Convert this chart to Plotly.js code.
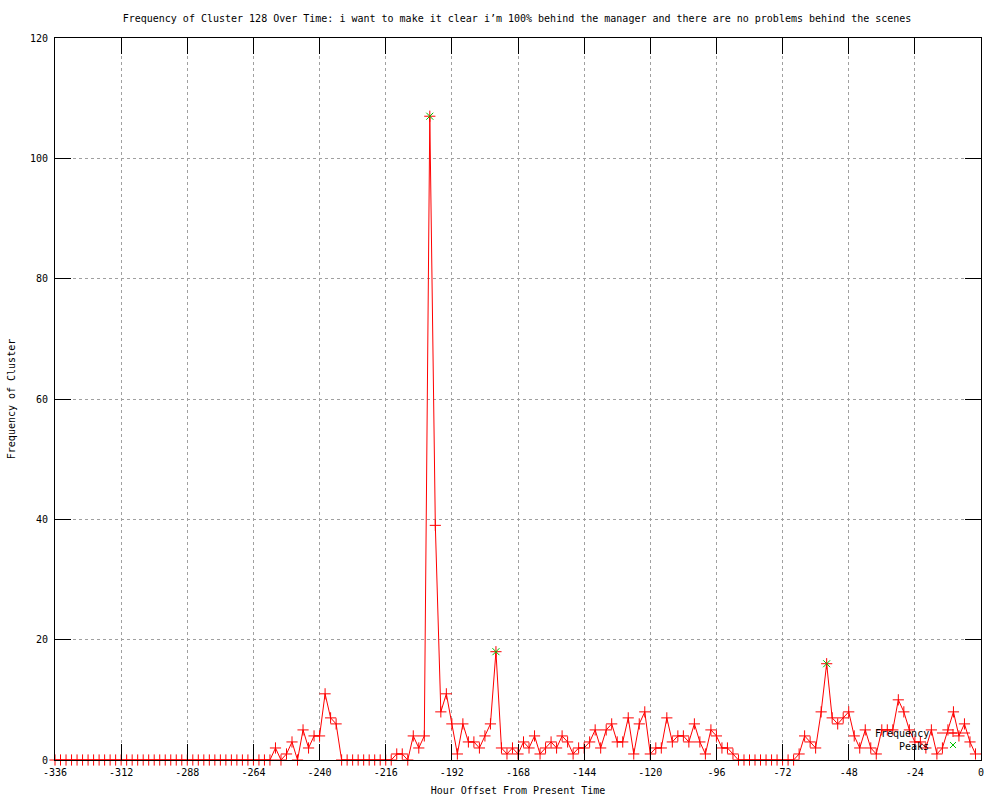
<!DOCTYPE html>
<html>
<head>
<meta charset="utf-8">
<script src="https://cdn.plot.ly/plotly-3.0.1.min.js"></script>
<style>html,body{margin:0;padding:0;background:#fff;}#chart{width:1000px;height:800px;}</style>
</head>
<body>
<div id="chart"></div>
<script>
// Hour offsets (x) of each sample
const hours = [
  -336,-334,-332,-330,-328,-326,-324,-322,-320,-318,
  -316,-314,-312,-310,-308,-306,-304,-302,-300,-298,
  -296,-294,-292,-290,-288,-286,-284,-282,-280,-278,
  -276,-274,-272,-270,-268,-266,-264,-262,-260,-258,
  -256,-254,-252,-250,-248,-246,-244,-242,-240,-238,
  -236,-234,-232,-230,-228,-226,-224,-222,-220,-218,
  -216,-214,-212,-210,-208,-206,-204,-202,-200,-198,
  -196,-194,-192,-190,-188,-186,-184,-182,-180,-178,
  -176,-174,-172,-170,-168,-166,-164,-162,-160,-158,
  -156,-154,-152,-150,-148,-146,-144,-142,-140,-138,
  -136,-134,-132,-130,-128,-126,-124,-122,-120,-118,
  -116,-114,-112,-110,-108,-106,-104,-102,-100,-98,
  -96,-94,-92,-90,-88,-86,-84,-82,-80,-78,
  -76,-74,-72,-70,-68,-66,-64,-62,-60,-58,
  -56,-54,-52,-50,-48,-46,-44,-42,-40,-38,
  -36,-34,-32,-30,-28,-26,-24,-22,-20,-18,
  -16,-14,-12,-10,-8,-6,-4,-2
];
// Frequency of cluster at each hour offset
const frequency = [
  0,0,0,0,0,0,0,0,0,0,
  0,0,0,0,0,0,0,0,0,0,
  0,0,0,0,0,0,0,0,0,0,
  0,0,0,0,0,0,0,0,0,0,
  2,0,1,3,0,5,2,4,4,11,
  7,6,0,0,0,0,0,0,0,0,
  0,0,1,1,0,4,2,4,107,39,
  8,11,6,1,6,3,3,2,4,6,
  18,2,1,2,1,3,2,4,1,2,
  3,2,4,3,1,2,2,3,5,2,
  5,6,3,3,7,1,6,8,1,2,
  2,7,3,4,4,3,6,3,1,5,
  4,2,2,1,0,0,0,0,0,0,
  0,0,0,0,0,1,4,3,2,8,
  16,7,6,7,8,4,2,5,2,1,
  5,5,5,10,8,5,3,3,2,5,
  1,2,5,8,4,6,3,1
];
// Detected peaks
const peakHours = [-200, -176, -56];
const peakValues = [107, 18, 16];

// Axis ticks
const xTickVals = [-336,-312,-288,-264,-240,-216,-192,-168,-144,-120,-96,-72,-48,-24,0];
const xTickLabels = ["-336","-312","-288","-264","-240","-216","-192","-168","-144","-120","-96","-72","-48","-24","0"];
const yTickVals = [0,20,40,60,80,100,120];
const yTickLabels = ["0","20","40","60","80","100","120"];

const FONT = "DejaVu Sans Mono, Liberation Mono, monospace";
const FS = 10;

const traces = [
  {
    x: hours, y: frequency, name: "Frequency",
    type: "scatter", mode: "lines+markers",
    line: {color: "#ff0000", width: 1},
    marker: {symbol: "cross-thin-open", size: 8, color: "#ff0000", line: {color: "#ff0000", width: 1}},
    cliponaxis: false, showlegend: false
  },
  {
    x: peakHours, y: peakValues, name: "Peaks",
    type: "scatter", mode: "markers",
    marker: {symbol: "x-thin-open", size: 7, color: "#00c000", line: {color: "#00c000", width: 1}},
    cliponaxis: false, showlegend: false
  }
];

// Manual gnuplot-style legend (text left, sample right), in pixel coords -> paper
const L = 55, R = 981, T = 38, B = 760;
const px = v => (v - L) / (R - L);
const py = v => (B - v) / (B - T);

const shapes = [
  {type: "line", xref: "paper", yref: "paper", x0: px(937), x1: px(970), y0: py(733), y1: py(733), line: {color: "#ff0000", width: 1}},
  {type: "line", xref: "paper", yref: "paper", x0: px(949), x1: px(957), y0: py(733), y1: py(733), line: {color: "#ff0000", width: 1}},
  {type: "line", xref: "paper", yref: "paper", x0: px(953), x1: px(953), y0: py(729), y1: py(737), line: {color: "#ff0000", width: 1}},
  {type: "line", xref: "paper", yref: "paper", x0: px(950), x1: px(956), y0: py(742), y1: py(748), line: {color: "#00c000", width: 1}},
  {type: "line", xref: "paper", yref: "paper", x0: px(950), x1: px(956), y0: py(748), y1: py(742), line: {color: "#00c000", width: 1}}
];

const annotations = [
  {xref: "paper", yref: "paper", x: px(931), y: py(733), text: "Frequency", showarrow: false, xanchor: "right", yanchor: "middle", font: {family: FONT, size: FS, color: "#000"}},
  {xref: "paper", yref: "paper", x: px(931), y: py(746), text: "Peaks", showarrow: false, xanchor: "right", yanchor: "middle", font: {family: FONT, size: FS, color: "#000"}}
];

const axisCommon = {
  showline: true, linecolor: "#000", linewidth: 1, mirror: "ticks",
  ticks: "inside", ticklen: 16, tickcolor: "#000", tickwidth: 1,
  showgrid: true, gridcolor: "#a0a0a0", griddash: "dot", gridwidth: 1,
  zeroline: false, tickfont: {family: FONT, size: FS, color: "#000"}
};

const layout = {
  width: 1000, height: 800,
  paper_bgcolor: "#fff", plot_bgcolor: "#fff",
  margin: {l: L, r: 1000 - R, t: T, b: 800 - B, pad: 0},
  font: {family: FONT, size: FS, color: "#000"},
  title: {
    text: "Frequency of Cluster 128 Over Time: i want to make it clear i’m 100% behind the manager and there are no problems behind the scenes",
    font: {family: FONT, size: FS, color: "#000"},
    x: 0.517, xanchor: "center", xref: "container",
    y: 1 - 18 / 800, yanchor: "middle", yref: "container"
  },
  xaxis: Object.assign({}, axisCommon, {
    range: [-336, 0], tickmode: "array", tickvals: xTickVals, ticktext: xTickLabels,
    ticklabelstandoff: 3,
    title: {text: "Hour Offset From Present Time", font: {family: FONT, size: FS, color: "#000"}, standoff: 9}
  }),
  yaxis: Object.assign({}, axisCommon, {
    range: [0, 120], tickmode: "array", tickvals: yTickVals, ticktext: yTickLabels,
    ticklabelstandoff: 4,
    title: {text: "Frequency of Cluster", font: {family: FONT, size: FS, color: "#000"}, standoff: 12}
  }),
  shapes: shapes,
  annotations: annotations,
  showlegend: false
};

Plotly.newPlot("chart", traces, layout, {displayModeBar: false, staticPlot: true});
</script>
</body>
</html>
